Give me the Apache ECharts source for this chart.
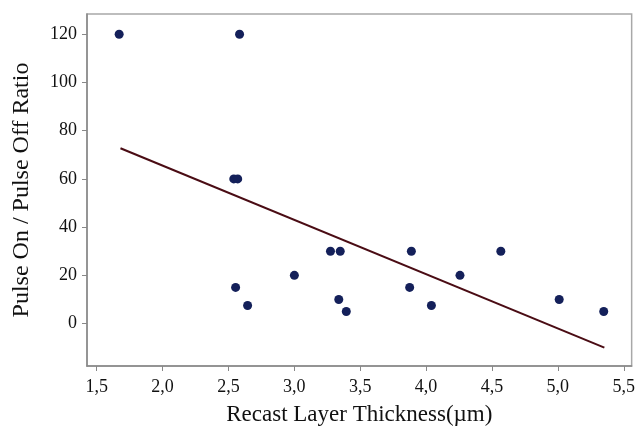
<!DOCTYPE html>
<html>
<head>
<meta charset="utf-8">
<script src="https://cdn.jsdelivr.net/npm/echarts@6/dist/echarts.min.js"></script>
<style>html,body{margin:0;padding:0;background:#fff}#c{width:638px;height:431px}</style>
</head>
<body>
<div id="c"></div>
<script>
var thickness = [1.67, 2.584, 2.54, 2.57, 2.554, 2.645, 3.0, 3.274, 3.348, 3.337, 3.394, 3.888, 3.875, 4.04, 4.257, 4.567, 5.01, 5.348];
var ratio =     [120,  120,   60,   60,   15,    7.5,   20,  30,    30,    10,    5,     30,    15,    7.5,  20,    30,    10,   5];
var fitX = [1.68, 5.353];
var fitY = [72.7, -10.0];
var xTicks = [1.5, 2.0, 2.5, 3.0, 3.5, 4.0, 4.5, 5.0, 5.5];
var yTicks = [0, 20, 40, 60, 80, 100, 120];

var pts = thickness.map(function(x, i){ return [x, ratio[i]]; });
var fit = fitX.map(function(x, i){ return [x, fitY[i]]; });

var chart = echarts.init(document.getElementById('c'));
var font = 'Liberation Serif';
chart.setOption({
  animation: false,
  grid: {left: 87, right: 5, top: 14, bottom: 63, show: true, borderColor: '#a8a8a8', borderWidth: 1.5},
  xAxis: {
    type: 'value', min: 1.426, max: 5.56,
    name: 'Recast Layer Thickness(µm)', nameLocation: 'middle', nameGap: 37,
    nameTextStyle: {fontFamily: font, fontSize: 23, color: '#111', verticalAlign: 'top'},
    axisLine: {show: true, onZero: false, lineStyle: {color: '#888', width: 1.5}},
    axisTick: {show: true, length: 5, lineStyle: {color: '#888'}, customValues: xTicks},
    axisLabel: {fontFamily: font, fontSize: 18, color: '#111', margin: 12, customValues: xTicks,
      formatter: function(v){ return v.toFixed(1).replace('.', ','); }},
    splitLine: {show: false}
  },
  yAxis: {
    type: 'value', min: -17.6, max: 128.4,
    name: 'Pulse On / Pulse Off Ratio', nameLocation: 'middle', nameGap: 53,
    nameTextStyle: {fontFamily: font, fontSize: 24, color: '#111'},
    axisLine: {show: true, onZero: false, lineStyle: {color: '#888', width: 1.5}},
    axisTick: {show: true, length: 5, lineStyle: {color: '#888'}, customValues: yTicks},
    axisLabel: {fontFamily: font, fontSize: 18, color: '#111', margin: 10, customValues: yTicks},
    splitLine: {show: false}
  },
  series: [
    {type: 'line', data: fit, symbol: 'none', lineStyle: {color: '#4a0c14', width: 2}, z: 2},
    {type: 'scatter', data: pts, symbol: 'circle', symbolSize: 9, itemStyle: {color: '#14205a', opacity: 1}, z: 3}
  ]
});
</script>
</body>
</html>
